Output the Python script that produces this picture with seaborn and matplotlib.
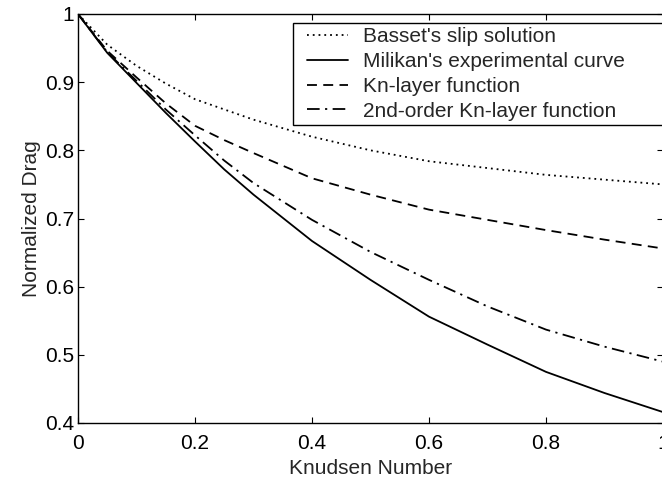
import matplotlib
matplotlib.use('Agg')
import matplotlib.pyplot as plt
import matplotlib.ticker as mticker
from matplotlib.lines import Line2D
from matplotlib.legend_handler import HandlerLine2D
import seaborn as sns
import pandas as pd

# Values
kn = [0, 0.05, 0.1, 0.15, 0.2, 0.25, 0.3, 0.4, 0.5, 0.6, 0.7, 0.8, 0.9, 1.0]
basset = [1, 0.955, 0.924, 0.898, 0.875, 0.860, 0.845, 0.820, 0.800, 0.784, 0.774, 0.764, 0.757, 0.750]
millikan = [1, 0.943, 0.899, 0.855, 0.813, 0.772, 0.735, 0.667, 0.610, 0.556, 0.515, 0.475, 0.444, 0.416]
kn_layer = [1, 0.946, 0.907, 0.869, 0.836, 0.815, 0.796, 0.759, 0.735, 0.713, 0.698, 0.683, 0.669, 0.656]
kn_layer2 = [1, 0.944, 0.902, 0.860, 0.822, 0.785, 0.752, 0.698, 0.651, 0.610, 0.571, 0.537, 0.512, 0.490]

labels = ["Basset's slip solution", "Milikan's experimental curve",
          "Kn-layer function", "2nd-order Kn-layer function"]

sns.set_style('ticks')
plt.rcParams['font.family'] = ['Liberation Sans', 'DejaVu Sans']

df = pd.DataFrame({'kn': kn, labels[0]: basset, labels[1]: millikan,
                   labels[2]: kn_layer, labels[3]: kn_layer2})

fig = plt.figure(figsize=(6.62, 4.8), dpi=100)
ax = fig.add_axes([78 / 662, 1 - 423 / 480, 585 / 662, 409 / 480])

styles = [(0, (1, 2.2)), '-', (0, (5.5, 3.5)), (0, (7, 3, 1.2, 3))]
for lab, ls in zip(labels, styles):
    sns.lineplot(data=df, x='kn', y=lab, ax=ax, color='black', linewidth=1.3,
                 linestyle=ls, label=lab)

ax.set_xlim(0, 1)
ax.set_ylim(0.4, 1)
ax.set_xticks([0, 0.2, 0.4, 0.6, 0.8, 1])
ax.set_yticks([0.4, 0.5, 0.6, 0.7, 0.8, 0.9, 1])
ax.xaxis.set_major_formatter(mticker.FormatStrFormatter('%g'))
ax.yaxis.set_major_formatter(mticker.FormatStrFormatter('%g'))
ax.tick_params(direction='in', length=4.5, width=0.8, top=True, right=True,
               labelsize=15, colors='black')
ax.tick_params(axis='x', pad=8)
ax.tick_params(axis='y', pad=3)
for s in ax.spines.values():
    s.set_color('black')
    s.set_linewidth(1.0)

ax.set_xlabel('Knudsen Number', fontsize=15, labelpad=4)
ax.set_ylabel('Normalized Drag', fontsize=15, labelpad=3)

leg = ax.legend(loc='upper left', bbox_to_anchor=(0.3675, 0.5, 0.66, 0.478),
                mode='expand', borderaxespad=0,
                fontsize=15, frameon=True, fancybox=False, framealpha=1,
                edgecolor='black', handlelength=2.45, handletextpad=0.72,
                labelspacing=0.28, borderpad=0.2,
                handler_map={Line2D: HandlerLine2D(xpad=0.48)})
leg.get_frame().set_linewidth(1.0)

fig.savefig('out.png', dpi=100, facecolor='white')
